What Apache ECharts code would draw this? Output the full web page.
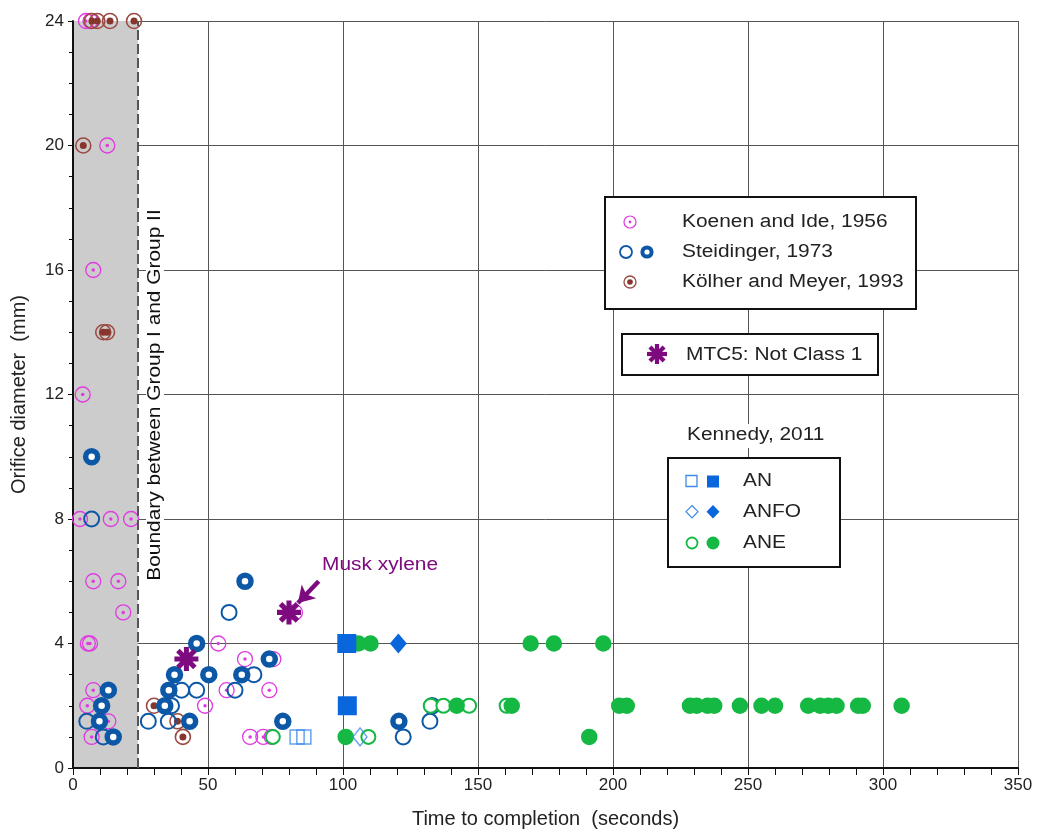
<!DOCTYPE html>
<html><head><meta charset="utf-8">
<script src="https://cdn.jsdelivr.net/npm/echarts@6/dist/echarts.min.js"></script>
<style>html,body{margin:0;padding:0;background:#fff}#c{width:1037px;height:834px}</style>
</head><body><div id="c"></div>
<script>
// ---- data (x = time to completion s, y = orifice diameter mm) ----
const koenen = [[4.8,24],[6.5,24],[12.7,20],[7.5,16],[3.6,12],[2.6,8],[14,8],[21.5,8],
  [7.5,6],[16.8,6],[18.6,5],[5.5,4],[6.3,4],[53.8,4],[63.7,3.5],[74.2,3.5],
  [7.5,2.5],[56.9,2.5],[72.7,2.5],[5.3,2],[48.9,2],[13.1,1.5],
  [6.9,1],[65.6,1],[70.5,1],[73.6,1],[82.2,5]];
const steidOpen = [[6.9,8],[5.1,1.5],[11.2,1],[40.2,2.5],[45.8,2.5],[36.5,2],[27.9,1.5],
  [35.3,1.5],[57.8,5],[67,3],[60,2.5],[122.3,1],[132.2,1.5]];
const steidThick = [[6.9,10],[13.1,2.5],[10.6,2],[9.8,1.5],[14.9,1],[45.8,4],[37.6,3],
  [50.3,3],[35.5,2.5],[34,2],[43.2,1.5],[63.7,6],[62.5,3],[72.7,3.5],[77.7,1.5],
  [120.7,1.5],[133,2]];
const kolher = [[7,24],[9,24],[13.7,24],[22.6,24],[3.8,20],[11.2,14],[12.6,14],
  [30,2],[38.7,1.5],[40.7,1]];
const mtc5 = [[42,3.5],[80,5]];
const anOpen = [[83,1],[85.5,1]];
const anFilled = [[101.4,4],[101.6,2]];
const anfoOpen = [[106.3,1]];
const anfoFilled = [[120.5,4]];
const aneOpen = [[74,1],[109.4,1],[132.5,2],[137.2,2],[146.7,2],[160.6,2]];
const aneFilled = [[105.7,4],[110.2,4],[169.5,4],[178.1,4],[196.4,4],[101,1],[191.2,1],
  [142.1,2],[162.5,2],[202.3,2],[205.1,2],[228.5,2],[231,2],[235,2],[237.5,2],[247,2],
  [255,2],[260,2],[272.3,2],[276.7,2],[279.7,2],[282.8,2],[290.8,2],[292.5,2],[306.9,2]];
const boundaryX = 24;
const muskArrow = [[91,6.0],[83.3,5.3]];

// ---- styles ----
const MAG = '#e03ae0', BLU = '#0d58a6', BRN = '#9a4a42', BRN2 = '#86362c',
      KBL = '#0a66dd', GRN = '#14b843', PUR = '#7e0a80';
const FONT = '"Liberation Sans", Arial, sans-serif';
const SX = 1.16;

function starBars(w){
  const bars=[];
  for(let k=0;k<4;k++){
    const a=k*Math.PI/4, c=Math.cos(a), s=Math.sin(a);
    bars.push([[-1,-w],[1,-w],[1,w],[-1,w]].map(([x,y])=>[x*c-y*s,x*s+y*c]));
  }
  return bars;
}
const BARS = starBars(0.21);
const STAR = 'path://' + BARS.map(b=>'M'+b.map(p=>p[0].toFixed(3)+' '+p[1].toFixed(3)).join(' L')+' Z').join(' ');

function ring(name,data,size,color,bw,fill){
  return {name,type:'scatter',data,symbol:'circle',symbolSize:size,silent:true,
    itemStyle:{color:fill||'rgba(0,0,0,0)',borderColor:color,borderWidth:bw,opacity:1}};
}
function solid(name,data,symbol,size,color){
  return {name,type:'scatter',data,symbol,symbolSize:size,silent:true,
    itemStyle:{color,opacity:1}};
}
function txt(x,y,text,size,color,extra){
  return Object.assign({type:'text',z:6,x,y,scaleX:SX,
    style:{text,font:size+'px '+FONT,fill:color||'#222',verticalAlign:'middle'}},extra||{});
}

const legendStar = BARS.map(b=>({type:'polygon',z:6,
  shape:{points:b.map(p=>[657+p[0]*10,354+p[1]*10])},style:{fill:PUR}}));

const chart = echarts.init(document.getElementById('c'));
chart.setOption({
  animation:false,
  backgroundColor:'#fff',
  grid:{left:73,right:19,top:21,bottom:64},
  xAxis:{type:'value',min:0,max:350,interval:50,z:1,
    name:'Time to completion  (seconds)',nameLocation:'middle',nameGap:41,
    nameTextStyle:{fontSize:20,fontFamily:FONT,color:'#222'},
    axisLine:{show:true,onZero:false,lineStyle:{color:'#111',width:2}},
    axisTick:{show:true,length:7,lineStyle:{color:'#111',width:1}},
    minorTick:{show:true,splitNumber:5,length:7,lineStyle:{color:'#111',width:1}},
    axisLabel:{fontSize:17,fontFamily:FONT,color:'#222',margin:9},
    splitLine:{show:true,lineStyle:{color:'#555',width:1}}},
  yAxis:{type:'value',min:0,max:24,interval:4,z:1,
    name:'Orifice diameter  (mm)',nameLocation:'middle',nameGap:44,
    nameTextStyle:{fontSize:20,fontFamily:FONT,color:'#222'},
    axisLine:{show:true,onZero:false,lineStyle:{color:'#111',width:2}},
    axisTick:{show:true,length:5,lineStyle:{color:'#111',width:1}},
    minorTick:{show:true,splitNumber:4,length:4,lineStyle:{color:'#111',width:1}},
    axisLabel:{fontSize:17,fontFamily:FONT,color:'#222',margin:9},
    splitLine:{show:true,lineStyle:{color:'#555',width:1}}},
  series:[
    {name:'bg',type:'scatter',data:[],z:0,silent:true,
      markArea:{silent:true,itemStyle:{color:'#cccccc',opacity:1},
        data:[[{xAxis:0},{xAxis:boundaryX}]]},
      markLine:{silent:true,symbol:['none','none'],label:{show:false},
        lineStyle:{color:'#555',width:2,type:[10,4]},data:[{xAxis:boundaryX}]}},
    ring('Koenen ring',koenen,15,MAG,1.3),
    solid('Koenen dot',koenen,'circle',3.5,MAG),
    ring('Kolher ring',kolher,15,BRN,1.6),
    solid('Kolher dot',kolher,'circle',7,BRN2),
    ring('Steid open',steidOpen,15,BLU,2),
    ring('Steid thick',steidThick,12,BLU,5.5,'#fff'),
    ring('ANE open',aneOpen,14,GRN,2,'#fff'),
    solid('ANE filled',aneFilled,'circle',16.5,GRN),
    {name:'AN open',type:'scatter',data:anOpen,symbol:'rect',symbolSize:14,silent:true,
      itemStyle:{color:'rgba(0,0,0,0)',borderColor:'#3d8ae8',borderWidth:1.5}},
    solid('AN filled',anFilled,'rect',19,KBL),
    {name:'ANFO open',type:'scatter',data:anfoOpen,symbol:'diamond',symbolSize:[14,18],silent:true,
      itemStyle:{color:'rgba(0,0,0,0)',borderColor:'#3d8ae8',borderWidth:1.3}},
    solid('ANFO filled',anfoFilled,'diamond',[17,20],KBL),
    {name:'MTC5',type:'scatter',data:mtc5,symbol:STAR,symbolSize:24,silent:true,
      itemStyle:{color:PUR,opacity:1},
      markLine:{silent:true,symbol:['none','arrow'],symbolSize:[15,16],label:{show:false},
        lineStyle:{color:PUR,width:4.5,type:'solid'},
        data:[[{coord:muskArrow[0]},{coord:muskArrow[1]}]]}}
  ],
  graphic:[
    {type:'text',x:155,y:395,rotation:Math.PI/2,z:5,scaleX:SX,
      style:{text:'Boundary between Group I and Group II',font:'18px '+FONT,fill:'#111',
        align:'center',verticalAlign:'middle',backgroundColor:'#fff',padding:[0,1]}},
    txt(322,565,'Musk xylene',18,PUR),
    // legend 1
    {type:'rect',z:5,shape:{x:605,y:197,width:311,height:112},style:{fill:'#fff',stroke:'#111',lineWidth:2}},
    {type:'circle',z:6,shape:{cx:630,cy:222,r:6},style:{fill:'none',stroke:MAG,lineWidth:1.2}},
    {type:'circle',z:6,shape:{cx:630,cy:222,r:1.4},style:{fill:MAG}},
    {type:'circle',z:6,shape:{cx:626,cy:252,r:6},style:{fill:'none',stroke:BLU,lineWidth:1.8}},
    {type:'circle',z:6,shape:{cx:647,cy:252,r:4.6},style:{fill:'#fff',stroke:BLU,lineWidth:4}},
    {type:'circle',z:6,shape:{cx:630,cy:282,r:6},style:{fill:'none',stroke:BRN,lineWidth:1.3}},
    {type:'circle',z:6,shape:{cx:630,cy:282,r:2.8},style:{fill:BRN2}},
    txt(682,222,'Koenen and Ide, 1956',18),
    txt(682,252,'Steidinger, 1973',18),
    txt(682,282,'Kölher and Meyer, 1993',18),
    // legend 2
    {type:'rect',z:5,shape:{x:622,y:334,width:256,height:41},style:{fill:'#fff',stroke:'#111',lineWidth:2}},
    ...legendStar,
    txt(686,355,'MTC5: Not Class 1',18),
    // Kennedy legend
    txt(687,435,'Kennedy, 2011',18,'#222',{}),
    {type:'rect',z:5,shape:{x:686,y:424,width:142,height:24},style:{fill:'#fff'}},
    {type:'rect',z:5,shape:{x:668,y:458,width:172,height:109},style:{fill:'#fff',stroke:'#111',lineWidth:2}},
    {type:'rect',z:6,shape:{x:686,y:475.5,width:11,height:11},style:{fill:'none',stroke:'#3d8ae8',lineWidth:1.3}},
    {type:'rect',z:6,shape:{x:707,y:475.5,width:12,height:12},style:{fill:KBL}},
    {type:'polygon',z:6,shape:{points:[[692,505.5],[698,511.7],[692,518],[686,511.7]]},style:{fill:'none',stroke:'#3d8ae8',lineWidth:1.2}},
    {type:'polygon',z:6,shape:{points:[[713,505],[719.5,511.7],[713,518.5],[706.5,511.7]]},style:{fill:KBL}},
    {type:'circle',z:6,shape:{cx:692,cy:543,r:5.5},style:{fill:'#fff',stroke:GRN,lineWidth:1.8}},
    {type:'circle',z:6,shape:{cx:713,cy:543,r:6.5},style:{fill:GRN}},
    txt(743,481,'AN',18),
    txt(743,512,'ANFO',18),
    txt(743,543,'ANE',18)
  ]
});
</script></body></html>
